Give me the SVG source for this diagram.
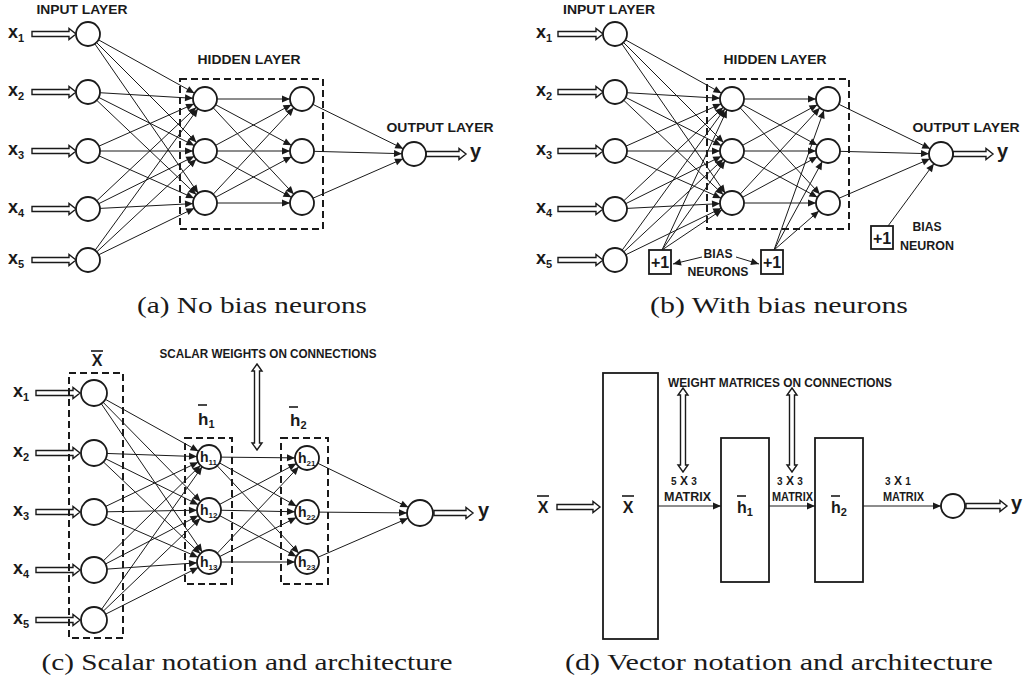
<svg xmlns="http://www.w3.org/2000/svg" width="1024" height="688" viewBox="0 0 1024 688">
<style>
.n{fill:#fff;stroke:#1a1a1a;stroke-width:1.8}
.c line{stroke:#1a1a1a;stroke-width:1;marker-end:url(#ah)}
.c13 line{stroke:#1a1a1a;stroke-width:1;marker-end:url(#ah13)}
.c0 line{stroke:#1a1a1a;stroke-width:1;marker-end:url(#ah0)}
.box{fill:none;stroke:#1a1a1a;stroke-width:2;stroke-dasharray:7 4}
.rb{fill:#fff;stroke:#1a1a1a;stroke-width:1.8}
.da{fill:#fff;stroke:#1a1a1a;stroke-width:1.4;stroke-linejoin:miter}
.t{font-family:"Liberation Sans",Arial,sans-serif;font-weight:bold;fill:#1a1a1a}
.lbl{font-size:13px;text-anchor:middle}
.xl{font-size:18px}
.sub{font-size:11px}
.yl{font-size:20px}
.cap{font-family:"Liberation Serif","Times New Roman",serif;font-size:24px;fill:#1a1a1a;text-anchor:middle}
.bar{stroke:#1a1a1a;stroke-width:1.6}
</style>
<defs>
<marker id="ah" markerWidth="9" markerHeight="7" refX="20" refY="3.5" orient="auto" markerUnits="userSpaceOnUse" overflow="visible"><path d="M0,0 L8,3.5 L0,7 Z" fill="#1a1a1a"/></marker>
<marker id="ah13" markerWidth="9" markerHeight="7" refX="21" refY="3.5" orient="auto" markerUnits="userSpaceOnUse" overflow="visible"><path d="M0,0 L8,3.5 L0,7 Z" fill="#1a1a1a"/></marker>
<marker id="ah0" markerWidth="9" markerHeight="7" refX="8" refY="3.5" orient="auto" markerUnits="userSpaceOnUse" overflow="visible"><path d="M0,0 L8,3.5 L0,7 Z" fill="#1a1a1a"/></marker>
</defs>
<rect width="1024" height="688" fill="#fff"/>

<!-- ========== Panel (a) ========== -->
<g id="a-connectors">
<g class="c">
<line x1="88" y1="34" x2="205" y2="99"/><line x1="88" y1="34" x2="205" y2="151"/><line x1="88" y1="34" x2="205" y2="203"/>
<line x1="88" y1="92" x2="205" y2="99"/><line x1="88" y1="92" x2="205" y2="151"/><line x1="88" y1="92" x2="205" y2="203"/>
<line x1="88" y1="151" x2="205" y2="99"/><line x1="88" y1="151" x2="205" y2="151"/><line x1="88" y1="151" x2="205" y2="203"/>
<line x1="88" y1="209" x2="205" y2="99"/><line x1="88" y1="209" x2="205" y2="151"/><line x1="88" y1="209" x2="205" y2="203"/>
<line x1="88" y1="260" x2="205" y2="99"/><line x1="88" y1="260" x2="205" y2="151"/><line x1="88" y1="260" x2="205" y2="203"/>
<line x1="205" y1="99" x2="302" y2="99"/><line x1="205" y1="99" x2="302" y2="151"/><line x1="205" y1="99" x2="302" y2="203"/>
<line x1="205" y1="151" x2="302" y2="99"/><line x1="205" y1="151" x2="302" y2="151"/><line x1="205" y1="151" x2="302" y2="203"/>
<line x1="205" y1="203" x2="302" y2="99"/><line x1="205" y1="203" x2="302" y2="151"/><line x1="205" y1="203" x2="302" y2="203"/>
<line x1="302" y1="99" x2="414" y2="154"/><line x1="302" y1="151" x2="414" y2="154"/><line x1="302" y1="203" x2="414" y2="154"/>
</g>
<path class="da" d="M32,31.5 H69 V28.5 L76,34 L69,39.5 V36.5 H32 Z"/>
<path class="da" d="M32,89.5 H69 V86.5 L76,92 L69,97.5 V94.5 H32 Z"/>
<path class="da" d="M32,148.5 H69 V145.5 L76,151 L69,156.5 V153.5 H32 Z"/>
<path class="da" d="M32,206.5 H69 V203.5 L76,209 L69,214.5 V211.5 H32 Z"/>
<path class="da" d="M32,257.5 H69 V254.5 L76,260 L69,265.5 V262.5 H32 Z"/>
<path class="da" d="M426,151.5 H459 V148.5 L466,154 L459,159.5 V156.5 H426 Z"/>
</g>
<rect class="box" x="180" y="79" width="143" height="150"/>
<g id="a-in1"><circle class="n" cx="88" cy="34" r="12"/><text class="t xl" x="8" y="38">x<tspan class="sub" dy="4">1</tspan></text></g>
<g id="a-in2"><circle class="n" cx="88" cy="92" r="12"/><text class="t xl" x="8" y="96">x<tspan class="sub" dy="4">2</tspan></text></g>
<g id="a-in3"><circle class="n" cx="88" cy="151" r="12"/><text class="t xl" x="8" y="155">x<tspan class="sub" dy="4">3</tspan></text></g>
<g id="a-in4"><circle class="n" cx="88" cy="209" r="12"/><text class="t xl" x="8" y="213">x<tspan class="sub" dy="4">4</tspan></text></g>
<g id="a-in5"><circle class="n" cx="88" cy="260" r="12"/><text class="t xl" x="8" y="264">x<tspan class="sub" dy="4">5</tspan></text></g>
<g id="a-h11"><circle class="n" cx="205" cy="99" r="12"/></g>
<g id="a-h12"><circle class="n" cx="205" cy="151" r="12"/></g>
<g id="a-h13"><circle class="n" cx="205" cy="203" r="12"/></g>
<g id="a-h21"><circle class="n" cx="302" cy="99" r="12"/></g>
<g id="a-h22"><circle class="n" cx="302" cy="151" r="12"/></g>
<g id="a-h23"><circle class="n" cx="302" cy="203" r="12"/></g>
<g id="a-out"><circle class="n" cx="414" cy="154" r="12"/><text class="t yl" x="470" y="158">y</text></g>
<text class="t lbl" x="82" y="14" textLength="91" lengthAdjust="spacingAndGlyphs">INPUT LAYER</text>
<text class="t lbl" x="249" y="64" textLength="103" lengthAdjust="spacingAndGlyphs">HIDDEN LAYER</text>
<text class="t lbl" x="440" y="132" textLength="107" lengthAdjust="spacingAndGlyphs">OUTPUT LAYER</text>
<text class="cap" x="252" y="313" textLength="230" lengthAdjust="spacingAndGlyphs">(a) No bias neurons</text>

<!-- ========== Panel (b) ========== -->
<g id="b-connectors">
<g class="c">
<line x1="615" y1="34" x2="732" y2="99"/><line x1="615" y1="34" x2="732" y2="151"/><line x1="615" y1="34" x2="732" y2="203"/>
<line x1="615" y1="92" x2="732" y2="99"/><line x1="615" y1="92" x2="732" y2="151"/><line x1="615" y1="92" x2="732" y2="203"/>
<line x1="615" y1="151" x2="732" y2="99"/><line x1="615" y1="151" x2="732" y2="151"/><line x1="615" y1="151" x2="732" y2="203"/>
<line x1="615" y1="209" x2="732" y2="99"/><line x1="615" y1="209" x2="732" y2="151"/><line x1="615" y1="209" x2="732" y2="203"/>
<line x1="615" y1="260" x2="732" y2="99"/><line x1="615" y1="260" x2="732" y2="151"/><line x1="615" y1="260" x2="732" y2="203"/>
<line x1="732" y1="99" x2="828" y2="99"/><line x1="732" y1="99" x2="828" y2="151"/><line x1="732" y1="99" x2="828" y2="203"/>
<line x1="732" y1="151" x2="828" y2="99"/><line x1="732" y1="151" x2="828" y2="151"/><line x1="732" y1="151" x2="828" y2="203"/>
<line x1="732" y1="203" x2="828" y2="99"/><line x1="732" y1="203" x2="828" y2="151"/><line x1="732" y1="203" x2="828" y2="203"/>
<line x1="828" y1="99" x2="941" y2="154"/><line x1="828" y1="151" x2="941" y2="154"/><line x1="828" y1="203" x2="941" y2="154"/>
<line x1="662" y1="250" x2="732" y2="99"/><line x1="662" y1="250" x2="732" y2="151"/><line x1="662" y1="250" x2="732" y2="203"/>
<line x1="774" y1="250" x2="828" y2="99"/><line x1="774" y1="250" x2="828" y2="151"/><line x1="774" y1="250" x2="828" y2="203"/>
<line x1="888" y1="226" x2="941" y2="154"/>
</g>
<g class="c0">
<line x1="702" y1="257" x2="673" y2="264"/>
<line x1="736" y1="257" x2="759" y2="264"/>
</g>
<path class="da" d="M558,31.5 H596 V28.5 L603,34 L596,39.5 V36.5 H558 Z"/>
<path class="da" d="M558,89.5 H596 V86.5 L603,92 L596,97.5 V94.5 H558 Z"/>
<path class="da" d="M558,148.5 H596 V145.5 L603,151 L596,156.5 V153.5 H558 Z"/>
<path class="da" d="M558,206.5 H596 V203.5 L603,209 L596,214.5 V211.5 H558 Z"/>
<path class="da" d="M558,257.5 H596 V254.5 L603,260 L596,265.5 V262.5 H558 Z"/>
<path class="da" d="M953,151.5 H986 V148.5 L993,154 L986,159.5 V156.5 H953 Z"/>
</g>
<rect class="box" x="707" y="79" width="142" height="150"/>
<g id="b-in1"><circle class="n" cx="615" cy="34" r="12"/><text class="t xl" x="536" y="38">x<tspan class="sub" dy="4">1</tspan></text></g>
<g id="b-in2"><circle class="n" cx="615" cy="92" r="12"/><text class="t xl" x="536" y="96">x<tspan class="sub" dy="4">2</tspan></text></g>
<g id="b-in3"><circle class="n" cx="615" cy="151" r="12"/><text class="t xl" x="536" y="155">x<tspan class="sub" dy="4">3</tspan></text></g>
<g id="b-in4"><circle class="n" cx="615" cy="209" r="12"/><text class="t xl" x="536" y="213">x<tspan class="sub" dy="4">4</tspan></text></g>
<g id="b-in5"><circle class="n" cx="615" cy="260" r="12"/><text class="t xl" x="536" y="264">x<tspan class="sub" dy="4">5</tspan></text></g>
<g id="b-h11"><circle class="n" cx="732" cy="99" r="12"/></g>
<g id="b-h12"><circle class="n" cx="732" cy="151" r="12"/></g>
<g id="b-h13"><circle class="n" cx="732" cy="203" r="12"/></g>
<g id="b-h21"><circle class="n" cx="828" cy="99" r="12"/></g>
<g id="b-h22"><circle class="n" cx="828" cy="151" r="12"/></g>
<g id="b-h23"><circle class="n" cx="828" cy="203" r="12"/></g>
<g id="b-out"><circle class="n" cx="941" cy="154" r="12"/><text class="t yl" x="997" y="158">y</text></g>
<g id="b-bias1"><rect class="rb" x="649" y="250" width="22" height="24"/><text class="t" x="660" y="268" font-size="16" text-anchor="middle">+1</text></g>
<g id="b-bias2"><rect class="rb" x="761" y="250" width="22" height="24"/><text class="t" x="772" y="268" font-size="16" text-anchor="middle">+1</text></g>
<g id="b-bias3"><rect class="rb" x="871" y="226" width="22" height="23"/><text class="t" x="882" y="243.5" font-size="16" text-anchor="middle">+1</text></g>
<text class="t lbl" x="609" y="14" textLength="92" lengthAdjust="spacingAndGlyphs">INPUT LAYER</text>
<text class="t lbl" x="775" y="64" textLength="103" lengthAdjust="spacingAndGlyphs">HIDDEN LAYER</text>
<text class="t lbl" x="966" y="132" textLength="107" lengthAdjust="spacingAndGlyphs">OUTPUT LAYER</text>
<text class="t lbl" x="718" y="258" textLength="29" lengthAdjust="spacingAndGlyphs">BIAS</text>
<text class="t lbl" x="718" y="276" textLength="61" lengthAdjust="spacingAndGlyphs">NEURONS</text>
<text class="t lbl" x="927" y="231" textLength="29" lengthAdjust="spacingAndGlyphs">BIAS</text>
<text class="t lbl" x="927" y="250" textLength="54" lengthAdjust="spacingAndGlyphs">NEURON</text>
<text class="cap" x="779" y="313" textLength="258" lengthAdjust="spacingAndGlyphs">(b) With bias neurons</text>

<!-- ========== Panel (c) ========== -->
<g id="c-connectors">
<g class="c">
<line x1="94" y1="393" x2="209" y2="457"/><line x1="94" y1="393" x2="209" y2="510"/><line x1="94" y1="393" x2="209" y2="562"/>
<line x1="94" y1="453" x2="209" y2="457"/><line x1="94" y1="453" x2="209" y2="510"/><line x1="94" y1="453" x2="209" y2="562"/>
<line x1="94" y1="512" x2="209" y2="457"/><line x1="94" y1="512" x2="209" y2="510"/><line x1="94" y1="512" x2="209" y2="562"/>
<line x1="94" y1="570" x2="209" y2="457"/><line x1="94" y1="570" x2="209" y2="510"/><line x1="94" y1="570" x2="209" y2="562"/>
<line x1="94" y1="620" x2="209" y2="457"/><line x1="94" y1="620" x2="209" y2="510"/><line x1="94" y1="620" x2="209" y2="562"/>
<line x1="209" y1="457" x2="307" y2="458"/><line x1="209" y1="457" x2="307" y2="512"/><line x1="209" y1="457" x2="307" y2="562"/>
<line x1="209" y1="510" x2="307" y2="458"/><line x1="209" y1="510" x2="307" y2="512"/><line x1="209" y1="510" x2="307" y2="562"/>
<line x1="209" y1="562" x2="307" y2="458"/><line x1="209" y1="562" x2="307" y2="512"/><line x1="209" y1="562" x2="307" y2="562"/>
</g>
<g class="c13">
<line x1="307" y1="458" x2="420" y2="513"/><line x1="307" y1="512" x2="420" y2="513"/><line x1="307" y1="562" x2="420" y2="513"/>
</g>
<path class="da" d="M36,390.5 H73 V387.5 L80,393 L73,398.5 V395.5 H36 Z"/>
<path class="da" d="M36,450.5 H73 V447.5 L80,453 L73,458.5 V455.5 H36 Z"/>
<path class="da" d="M36,509.5 H73 V506.5 L80,512 L73,517.5 V514.5 H36 Z"/>
<path class="da" d="M36,567.5 H73 V564.5 L80,570 L73,575.5 V572.5 H36 Z"/>
<path class="da" d="M36,617.5 H73 V614.5 L80,620 L73,625.5 V622.5 H36 Z"/>
<path class="da" d="M434,510.5 H466 V507.5 L473,513 L466,518.5 V515.5 H434 Z"/>
<path class="da" d="M257,364 L262,371 H259.5 V443 H262 L257,450 L252,443 H254.5 V371 H252 Z"/>
</g>
<rect class="box" x="69" y="373" width="54" height="265"/>
<rect class="box" x="185" y="438" width="47" height="146"/>
<rect class="box" x="281" y="438" width="47" height="146"/>
<g id="c-in1"><circle class="n" cx="94" cy="393" r="13"/><text class="t xl" x="13" y="397">x<tspan class="sub" dy="4">1</tspan></text></g>
<g id="c-in2"><circle class="n" cx="94" cy="453" r="13"/><text class="t xl" x="13" y="457">x<tspan class="sub" dy="4">2</tspan></text></g>
<g id="c-in3"><circle class="n" cx="94" cy="512" r="13"/><text class="t xl" x="13" y="516">x<tspan class="sub" dy="4">3</tspan></text></g>
<g id="c-in4"><circle class="n" cx="94" cy="570" r="13"/><text class="t xl" x="13" y="574">x<tspan class="sub" dy="4">4</tspan></text></g>
<g id="c-in5"><circle class="n" cx="94" cy="620" r="13"/><text class="t xl" x="13" y="624">x<tspan class="sub" dy="4">5</tspan></text></g>
<g id="c-h11"><circle class="n" cx="209" cy="457" r="12"/><text class="t" x="200" y="462" font-size="14">h<tspan font-size="8" dy="3">11</tspan></text></g>
<g id="c-h12"><circle class="n" cx="209" cy="510" r="12"/><text class="t" x="200" y="515" font-size="14">h<tspan font-size="8" dy="3">12</tspan></text></g>
<g id="c-h13"><circle class="n" cx="209" cy="562" r="12"/><text class="t" x="200" y="567" font-size="14">h<tspan font-size="8" dy="3">13</tspan></text></g>
<g id="c-h21"><circle class="n" cx="307" cy="458" r="12"/><text class="t" x="298" y="463" font-size="14">h<tspan font-size="8" dy="3">21</tspan></text></g>
<g id="c-h22"><circle class="n" cx="307" cy="512" r="12"/><text class="t" x="298" y="517" font-size="14">h<tspan font-size="8" dy="3">22</tspan></text></g>
<g id="c-h23"><circle class="n" cx="307" cy="562" r="12"/><text class="t" x="298" y="567" font-size="14">h<tspan font-size="8" dy="3">23</tspan></text></g>
<g id="c-out"><circle class="n" cx="420" cy="513" r="13"/><text class="t yl" x="478" y="517">y</text></g>
<text class="t" x="97" y="366" font-size="16" text-anchor="middle">X</text><line class="bar" x1="91" y1="351" x2="103" y2="351"/>
<text class="t" x="198" y="425" font-size="17">h<tspan class="sub" dy="3">1</tspan></text><line class="bar" x1="198" y1="405" x2="207" y2="405"/>
<text class="t" x="290" y="426" font-size="17">h<tspan class="sub" dy="3">2</tspan></text><line class="bar" x1="289" y1="407" x2="298" y2="407"/>
<text class="t lbl" x="268" y="358" textLength="217" lengthAdjust="spacingAndGlyphs">SCALAR WEIGHTS ON CONNECTIONS</text>
<text class="cap" x="247" y="670" textLength="411" lengthAdjust="spacingAndGlyphs">(c) Scalar notation and architecture</text>

<!-- ========== Panel (d) ========== -->
<g id="d-connectors">
<g class="c0">
<line x1="658" y1="506" x2="721" y2="506"/>
<line x1="769" y1="506" x2="815" y2="506"/>
<line x1="863" y1="506" x2="941" y2="506"/>
</g>
<path class="da" d="M557,504.5 H593 V501.5 L600,507 L593,512.5 V509.5 H557 Z"/>
<path class="da" d="M966,503.5 H1000 V500.5 L1007,506 L1000,511.5 V508.5 H966 Z"/>
<path class="da" d="M683,388 L688,395 H685.5 V465 H688 L683,472 L678,465 H680.5 V395 H678 Z"/>
<path class="da" d="M792,388 L797,395 H794.5 V465 H797 L792,472 L787,465 H789.5 V395 H787 Z"/>
</g>
<g id="d-x"><rect class="rb" x="603" y="373" width="55" height="266"/><text class="t" x="628" y="513" font-size="16" text-anchor="middle">X</text><line class="bar" x1="622" y1="496" x2="634" y2="496"/></g>
<g id="d-h1"><rect class="rb" x="721" y="438" width="48" height="144"/><text class="t" x="737" y="513" font-size="16">h<tspan class="sub" dy="3">1</tspan></text><line class="bar" x1="737" y1="496" x2="746" y2="496"/></g>
<g id="d-h2"><rect class="rb" x="815" y="438" width="48" height="144"/><text class="t" x="831" y="513" font-size="16">h<tspan class="sub" dy="3">2</tspan></text><line class="bar" x1="831" y1="496" x2="840" y2="496"/></g>
<g id="d-out"><circle class="n" cx="953" cy="506" r="12"/><text class="t yl" x="1011" y="510">y</text></g>
<text class="t" x="543" y="513" font-size="16" text-anchor="middle">X</text><line class="bar" x1="537" y1="496" x2="549" y2="496"/>
<text class="t lbl" x="780" y="387" textLength="224" lengthAdjust="spacingAndGlyphs">WEIGHT MATRICES ON CONNECTIONS</text>
<text class="t" x="684" y="485" font-size="12" text-anchor="middle"><tspan font-size="10">5</tspan> X <tspan font-size="10">3</tspan></text>
<text class="t" x="687.5" y="501" font-size="12" text-anchor="middle" textLength="47" lengthAdjust="spacingAndGlyphs">MATRIX</text>
<text class="t" x="790" y="485" font-size="12" text-anchor="middle"><tspan font-size="10">3</tspan> X <tspan font-size="10">3</tspan></text>
<text class="t" x="792.5" y="501" font-size="12" text-anchor="middle" textLength="41" lengthAdjust="spacingAndGlyphs">MATRIX</text>
<text class="t" x="898" y="485" font-size="12" text-anchor="middle"><tspan font-size="10">3</tspan> X <tspan font-size="10">1</tspan></text>
<text class="t" x="903.5" y="501" font-size="12" text-anchor="middle" textLength="41" lengthAdjust="spacingAndGlyphs">MATRIX</text>
<text class="cap" x="779" y="670" textLength="428" lengthAdjust="spacingAndGlyphs">(d) Vector notation and architecture</text>
</svg>
